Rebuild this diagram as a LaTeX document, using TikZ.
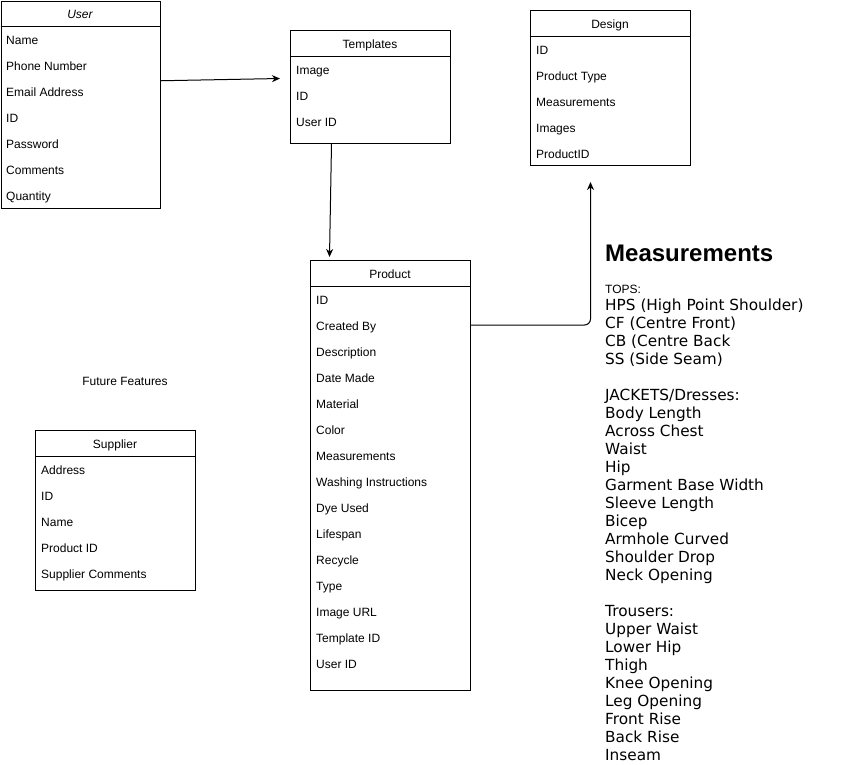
\documentclass[tikz,border=0pt]{standalone}
\usepackage{fontspec}
\setmainfont{Liberation Sans}
\newfontfamily\verdana{DejaVu Sans}
\usetikzlibrary{arrows.meta,positioning,calc}

\begin{document}
\begin{tikzpicture}
[x=1pt,y=-1pt,
every node/.style={inner sep=0pt,font=\fontsize{12}{14}\selectfont},
entity/.style={draw=black,line width=1pt,anchor=north west,minimum width=160pt},
field/.style={anchor=base west},
title/.style={anchor=base},
divider/.style={line width=1pt},
link/.style={line width=1pt,-{Stealth[length=8pt,width=7pt,inset=2.5pt]}},
measure/.style={anchor=base west,font=\verdana\fontsize{15.3}{18}\selectfont}]
\useasboundingbox (0,0) rectangle (841,764);

% User
\node[entity,minimum width=159.5pt,minimum height=207.5pt] (user) at (0.5,0.5) {};
\draw[divider] ([yshift=-25.5pt]user.north west) -- ([yshift=-25.5pt]user.north east);
\node[title,font=\itshape\fontsize{12}{14}\selectfont] (user-title) at (80,18.5) {User};
\foreach \f [count=\i] in {Name,Phone Number,Email Address,ID,Password,Comments,Quantity}
  \node[field] (user-\i) at (6,{18.5+26*\i}) {\f};

% Templates
\node[entity,minimum height=113pt] (tmpl) at (290,30) {};
\draw[divider] ([yshift=-26pt]tmpl.north west) -- ([yshift=-26pt]tmpl.north east);
\node[title] (tmpl-title) at (370,48.5) {Templates};
\foreach \f [count=\i] in {Image,ID,User ID}
  \node[field] (tmpl-\i) at (296,{48.5+26*\i}) {\f};

% Design
\node[entity,minimum height=155pt] (design) at (530,10) {};
\draw[divider] ([yshift=-26pt]design.north west) -- ([yshift=-26pt]design.north east);
\node[title] (design-title) at (610,28.5) {Design};
\foreach \f [count=\i] in {ID,Product Type,Measurements,Images,ProductID}
  \node[field] (design-\i) at (536,{28.5+26*\i}) {\f};

% Product
\node[entity,minimum height=430pt] (prod) at (310,260) {};
\draw[divider] ([yshift=-26pt]prod.north west) -- ([yshift=-26pt]prod.north east);
\node[title] (prod-title) at (390,278.5) {Product};
\foreach \f [count=\i] in {ID,Created By,Description,Date Made,Material,Color,Measurements,Washing Instructions,Dye Used,Lifespan,Recycle,Type,Image URL,Template ID,User ID}
  \node[field] (prod-\i) at (316,{278.5+26*\i}) {\f};

% Supplier
\node[title] (future) at (125,385.5) {Future Features};
\node[entity,minimum height=160pt] (supp) at (35,430) {};
\draw[divider] ([yshift=-26pt]supp.north west) -- ([yshift=-26pt]supp.north east);
\node[title] (supp-title) at (115,448.5) {Supplier};
\foreach \f [count=\i] in {Address,ID,Name,Product ID,Supplier Comments}
  \node[field] (supp-\i) at (41,{448.5+26*\i}) {\f};

% links
\draw[link] ([yshift=24pt]user.east) -- ([xshift=-10pt,yshift=8.5pt]tmpl.west);
\draw[link] ([xshift=-39pt]tmpl.south) -- ([xshift=-61pt,yshift=3pt]prod.north);
\draw[link,rounded corners=6pt] ([yshift=-65pt]prod.north east) -| ([xshift=-20pt,yshift=-16pt]design.south);

% Measurements
\node[anchor=base west,font=\bfseries\fontsize{24}{28}\selectfont] (meas) at (605,261) {Measurements};
\node[anchor=base west] (tops) at (605,293) {TOPS:};
\foreach \m [count=\i from 0] in {{HPS (High Point Shoulder)},{CF (Centre Front)},{CB (Centre Back},{SS (Side Seam)}}
  \node[measure] (tops-\i) at (605,{310.5+18*\i}) {\m};
\node[measure] (jackets) at (605,400.5) {JACKETS/Dresses:};
\foreach \m [count=\i from 0] in {Body Length,Across Chest,Waist,Hip,Garment Base Width,Sleeve Length,Bicep,Armhole Curved,Shoulder Drop,Neck Opening}
  \node[measure] (jackets-\i) at (605,{418.5+18*\i}) {\m};
\node[measure] (trousers) at (605,616.5) {Trousers:};
\foreach \m [count=\i from 0] in {Upper Waist,Lower Hip,Thigh,Knee Opening,Leg Opening,Front Rise,Back Rise,Inseam}
  \node[measure] (trousers-\i) at (605,{634.5+18*\i}) {\m};
\end{tikzpicture}
\end{document}
